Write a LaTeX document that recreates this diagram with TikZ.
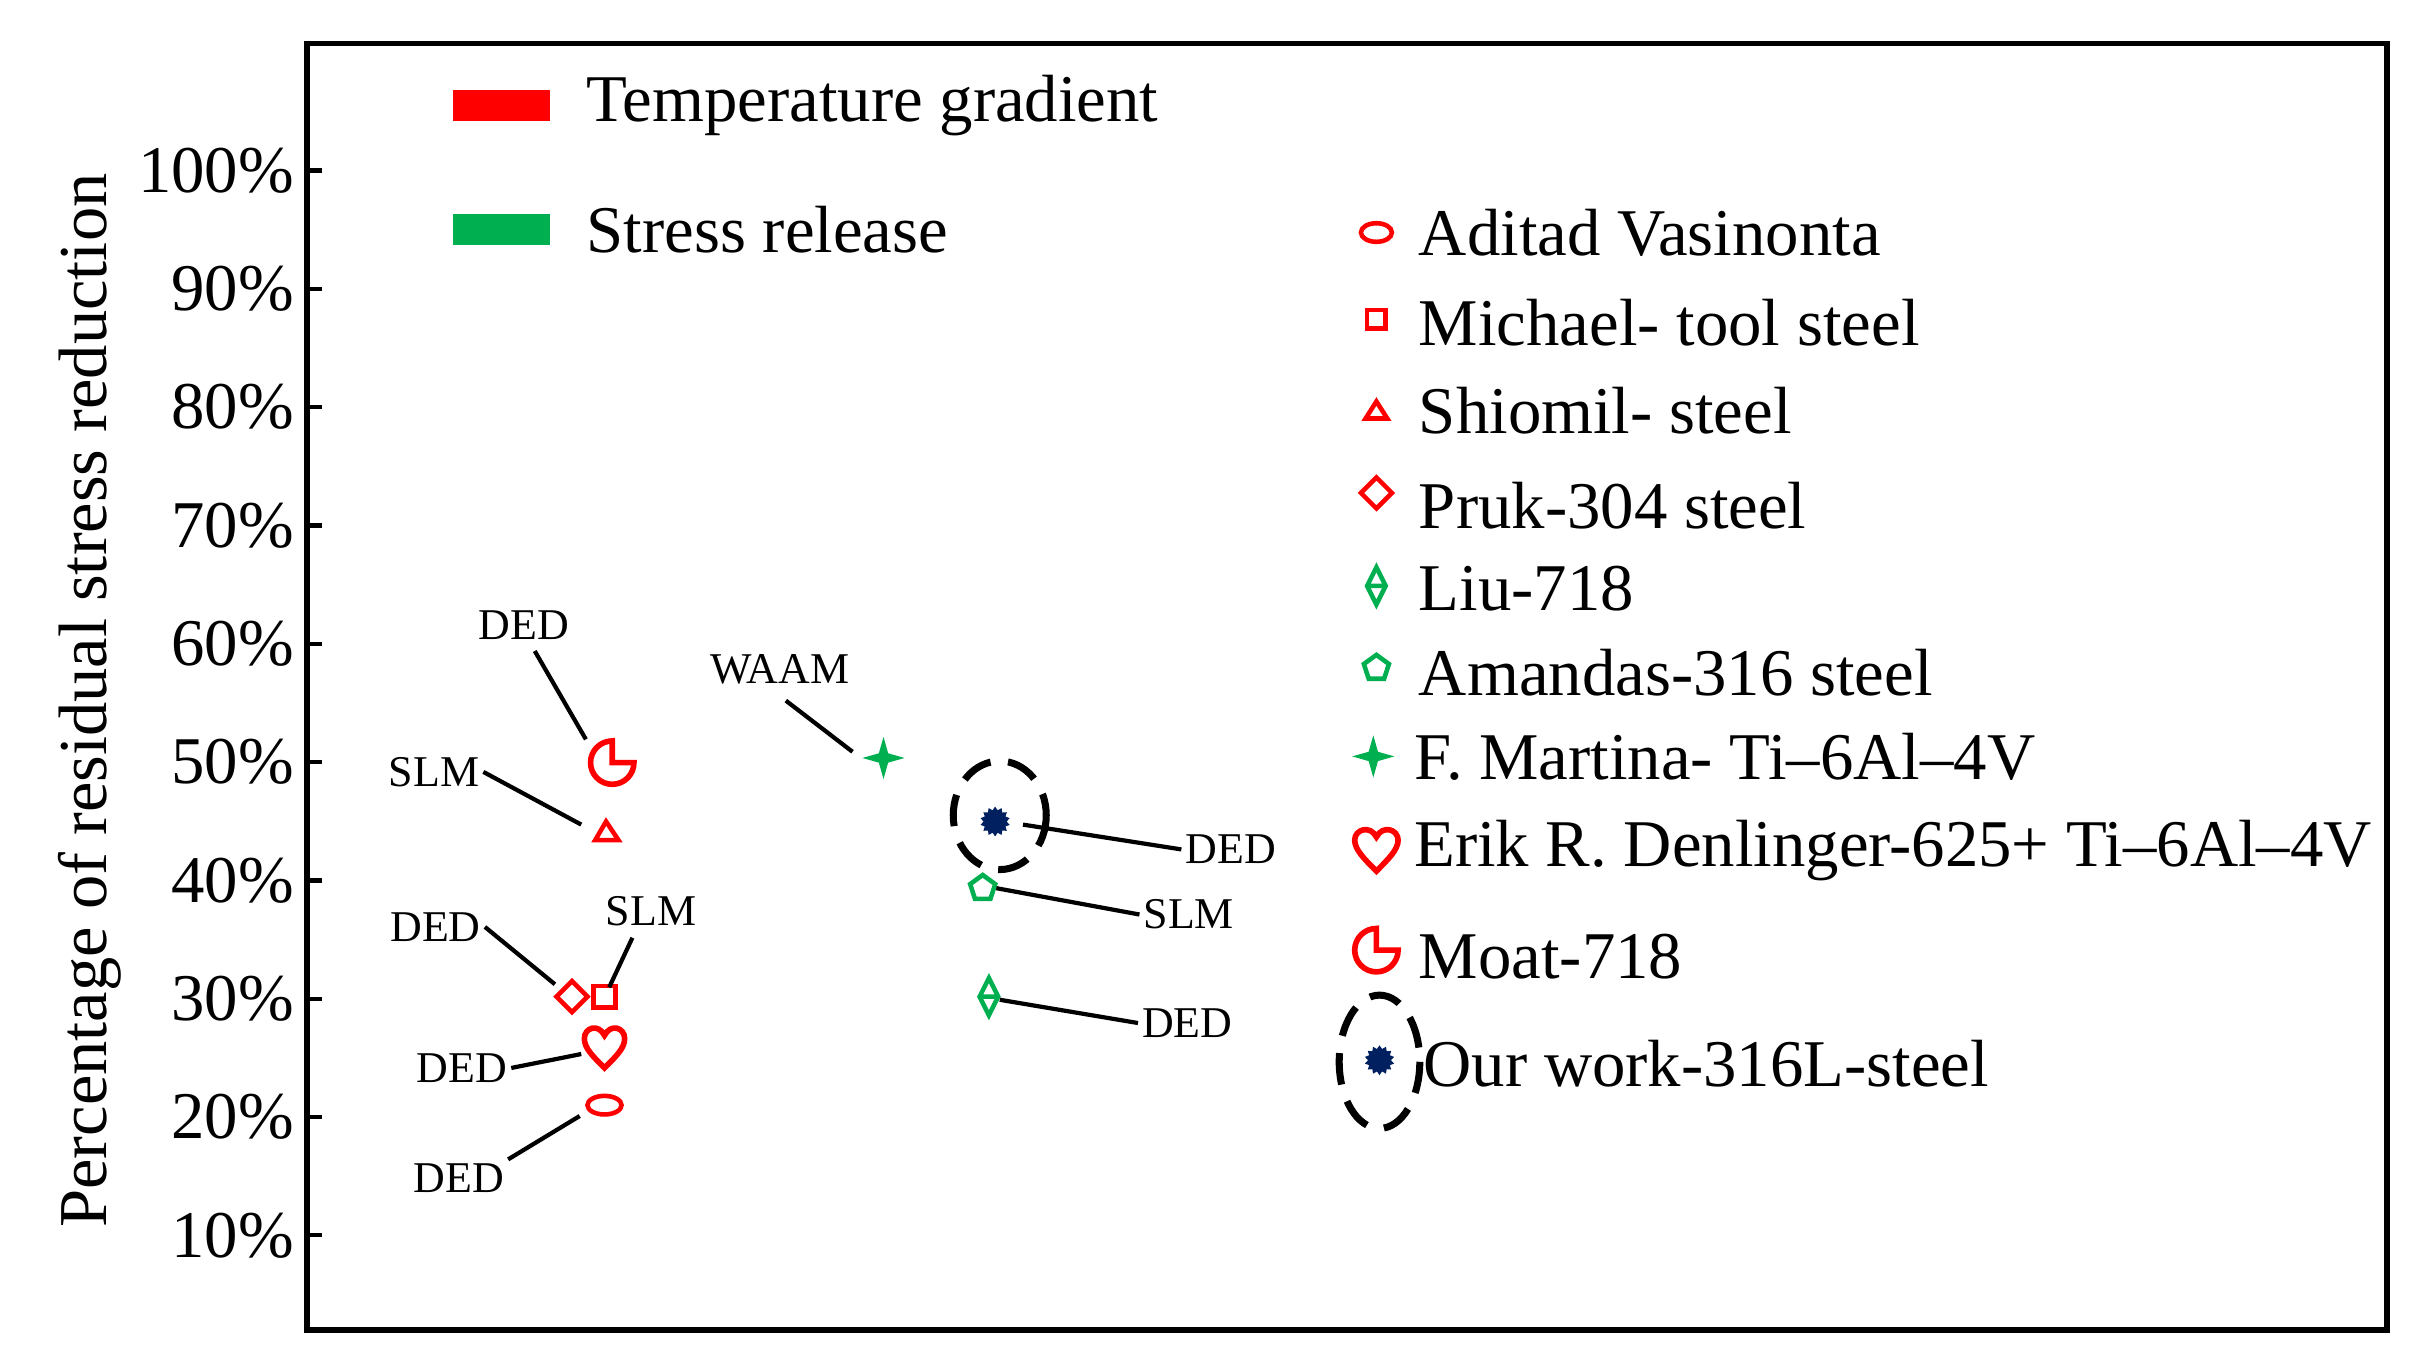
\documentclass[tikz,border=0pt]{standalone}
\usepackage{fontspec}
\setmainfont{Liberation Serif}
\usetikzlibrary{shapes.geometric}
\definecolor{rd}{RGB}{255,0,0}
\definecolor{gr}{RGB}{0,176,80}
\definecolor{nv}{RGB}{0,32,96}
\begin{document}
\begin{tikzpicture}[x=0.0155cm,y=-0.0155cm,
 lbl/.style={font=\fontsize{12.5}{12.5}\selectfont,inner sep=1pt},
 leg/.style={font=\fontsize{19}{19}\selectfont,anchor=west,inner sep=0pt},
 tick/.style={font=\fontsize{19}{19}\selectfont,anchor=east,inner sep=0pt},
 ln/.style={line width=1.2pt},
 mr/.style={draw=rd,line width=1.3pt},
 mg/.style={draw=gr,line width=1.3pt},
 pent/.style={regular polygon,regular polygon sides=5,draw=gr,line width=1.3pt,minimum size=7.5pt,inner sep=0pt},
 four/.style={star,star points=4,star point ratio=3.2,fill=gr,minimum size=12pt,inner sep=0pt},
 burst/.style={star,star points=14,star point ratio=1.3,fill=nv,minimum size=8.5pt,inner sep=0pt},
 dsh/.style={line width=2pt,dash pattern=on 9pt off 5pt}]
\useasboundingbox (0,0) rectangle (1560,884.5);
\draw[line width=1.5pt] (198,28) rectangle (1540,858);
% ticks
\foreach \v in {10,20,...,100}{
  \pgfmathsetmacro{\yy}{797-(\v-10)*7.633}
  \draw[line width=1.2pt] (198,\yy) -- (208,\yy);
  \node[tick] at (190,\yy) {\v\%};
}
\node[rotate=90,font=\fontsize{19.5}{19.5}\selectfont] (yl) at (58,452) {Percentage of residual stress reduction};
% legend bars
\fill[rd] (292,58) rectangle (355,78);
\node[leg] (t1) at (378,68) {Temperature gradient};
\fill[gr] (292,138) rectangle (355,158);
\node[leg] (t2) at (378,148) {Stress release};
% right legend
\draw[mr] (888,150) ellipse (10 and 6);
\node[leg] at (915,150) {Aditad Vasinonta};
\draw[mr] (882,200) rectangle (894,212);
\node[leg] at (915,208) {Michael- tool steel};
\draw[mr] (881,270) -- (895,270) -- (888,259) -- cycle;
\node[leg] at (915,265) {Shiomil- steel};
\draw[mr] (888,308) -- (898,318) -- (888,328) -- (878,318) -- cycle;
\node[leg] at (915,326) {Pruk-304 steel};
\draw[mg] (888,366) -- (894,378) -- (888,390) -- (882,378) -- cycle (882,378) -- (894,378);
\node[leg] at (915,380) {Liu-718};
\node[pent] at (888,431) {};
\node[leg] at (915,434) {Amandas-316 steel};
\node[four] at (886,488) {};
\node[leg] at (912,488) {F. Martina- Ti–6Al–4V};
\draw[mr,line width=1.6pt] (888,562) .. controls (880,554) and (874,548) .. (874,542) .. controls (874,535) and (884,532) .. (888,540) .. controls (892,532) and (902,535) .. (902,542) .. controls (902,548) and (896,554) .. (888,562) -- cycle;
\node[leg] at (912,549) {Erik R. Denlinger-625+ Ti–6Al–4V};
\draw[mr,line width=1.6pt] (888,613) -- ++(0:14) arc (0:270:14) -- cycle;
\node[leg] at (915,617) {Moat-718};
\draw[dsh] (890,685) ellipse (26 and 43);
\node[burst] at (890,684) {};
\node[leg] at (918,686) {Our work-316L-steel};
% data markers
\coordinate (moat) at (395,492);
\draw[mr,line width=1.6pt] (moat) -- ++(0:14) arc (0:270:14) -- cycle;
\draw[mr] (384,542) -- (399,542) -- (391,530) -- cycle;
\draw[mr] (369,633) -- (379,643) -- (369,653) -- (359,643) -- cycle;
\draw[mr] (383,636) rectangle (397,650);
\draw[mr,line width=1.6pt] (390,689) .. controls (382,681) and (377,676) .. (377,670) .. controls (377,663) and (386,660) .. (390,668) .. controls (394,660) and (403,663) .. (403,670) .. controls (403,676) and (398,681) .. (390,689) -- cycle;
\draw[mr] (390,713) ellipse (11 and 6);
\node[four] (mart) at (570,489) {};
\draw[dsh] (645,526) ellipse (30 and 35);
\node[burst] (ours) at (642,530) {};
\node[pent] (pn) at (634,573) {};
\draw[mg] (638,631) -- (644,643) -- (638,655) -- (632,643) -- cycle (632,643) -- (644,643);
% labels
\node[lbl] (l1) at (338,403) {DED};
\draw[ln] (345,420) -- (378,477);
\node[lbl] (l2) at (280,498) {SLM};
\draw[ln] (l2.east) -- (375,532);
\node[lbl] (l3) at (281,598) {DED};
\draw[ln] (l3.east) -- (358,635);
\node[lbl] (l4) at (420,588) {SLM};
\draw[ln] (408,605) -- (393,637);
\node[lbl] (l5) at (298,689) {DED};
\draw[ln] (l5.east) -- (375,680);
\node[lbl] (l6) at (296,760) {DED};
\draw[ln] (l6.north east) -- (374,720);
\node[lbl] (l7) at (503,432) {WAAM};
\draw[ln] (507,452) -- (550,485);
\node[lbl] (l8) at (794,548) {DED};
\draw[ln] (660,532) -- (l8.west);
\node[lbl] (l9) at (767,590) {SLM};
\draw[ln] (pn.east) -- (l9.west);
\node[lbl] (l10) at (766,660) {DED};
\draw[ln] (645,645) -- (l10.west);
\end{tikzpicture}
\end{document}
